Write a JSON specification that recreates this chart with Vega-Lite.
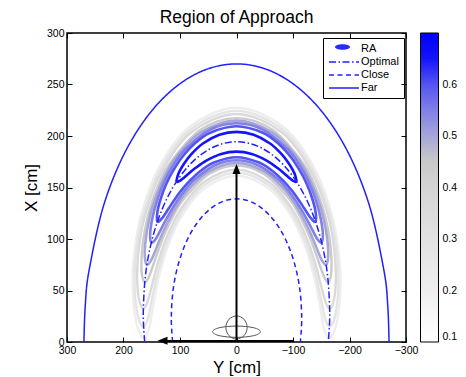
{
"$schema": "https://vega.github.io/schema/vega-lite/v6.json",
"width": 339, "height": 309,
"autosize": {"type": "none"},
"padding": {"left": 67, "top": 33, "right": 60, "bottom": 35},
"title": {"text": "Region of Approach", "fontSize": 17.5, "fontWeight": "normal", "color": "black", "baseline": "bottom", "offset": 8, "dy": 24},
"config": {
  "font": "Liberation Sans",
  "view": {"stroke": "black", "strokeWidth": 1.5},
  "axis": {"domain": false, "grid": false, "tickColor": "black", "tickSize": -5, "tickWidth": 1, "labelFontSize": 10.5, "labelColor": "black", "labelPadding": 8, "labelFlush": false, "titleFontSize": 17, "titleFontWeight": "normal", "titleColor": "black"}
},
"resolve": {"axis": {"x": "independent", "y": "independent"}},
"datasets": {
"contours": [
{"l":0.2,"o":0,"y":163,"x":3.6},{"l":0.2,"o":1,"y":173.3,"x":11.2},{"l":0.2,"o":2,"y":178.9,"x":23.2},{"l":0.2,"o":3,"y":183.1,"x":42.2},{"l":0.2,"o":4,"y":183,"x":75},{"l":0.2,"o":5,"y":170.4,"x":120},{"l":0.2,"o":6,"y":138.6,"x":168},{"l":0.2,"o":7,"y":83.5,"x":208.5},{"l":0.2,"o":8,"y":0,"x":227.4},{"l":0.2,"o":9,"y":-83.5,"x":208.5},{"l":0.2,"o":10,"y":-138.6,"x":168},{"l":0.2,"o":11,"y":-170.4,"x":120},{"l":0.2,"o":12,"y":-183,"x":75},{"l":0.2,"o":13,"y":-183.1,"x":42.2},{"l":0.2,"o":14,"y":-178.9,"x":23.2},{"l":0.2,"o":15,"y":-173.3,"x":11.2},{"l":0.2,"o":16,"y":-163,"x":3.6},{"l":0.2,"o":17,"y":-154.8,"x":13.1},{"l":0.2,"o":18,"y":-150.9,"x":24.1},{"l":0.2,"o":19,"y":-146.2,"x":39.6},{"l":0.2,"o":20,"y":-137.2,"x":63.6},{"l":0.2,"o":21,"y":-121,"x":93.7},{"l":0.2,"o":22,"y":-94.8,"x":124.2},{"l":0.2,"o":23,"y":-56,"x":149.4},{"l":0.2,"o":24,"y":0,"x":161.4},{"l":0.2,"o":25,"y":56,"x":149.4},{"l":0.2,"o":26,"y":94.8,"x":124.2},{"l":0.2,"o":27,"y":121,"x":93.7},{"l":0.2,"o":28,"y":137.2,"x":63.6},{"l":0.2,"o":29,"y":146.2,"x":39.6},{"l":0.2,"o":30,"y":150.9,"x":24.1},{"l":0.2,"o":31,"y":154.8,"x":13.1},
{"l":0.28,"o":0,"y":164.4,"x":15},{"l":0.28,"o":1,"y":171.9,"x":20.4},{"l":0.28,"o":2,"y":177,"x":32.5},{"l":0.28,"o":3,"y":180.2,"x":51.5},{"l":0.28,"o":4,"y":178.8,"x":80.7},{"l":0.28,"o":5,"y":167.6,"x":118.5},{"l":0.28,"o":6,"y":136.4,"x":165.8},{"l":0.28,"o":7,"y":82.2,"x":205.8},{"l":0.28,"o":8,"y":0,"x":224.4},{"l":0.28,"o":9,"y":-82.2,"x":205.8},{"l":0.28,"o":10,"y":-136.4,"x":165.8},{"l":0.28,"o":11,"y":-167.6,"x":118.5},{"l":0.28,"o":12,"y":-178.8,"x":80.7},{"l":0.28,"o":13,"y":-180.2,"x":51.5},{"l":0.28,"o":14,"y":-177,"x":32.5},{"l":0.28,"o":15,"y":-171.9,"x":20.4},{"l":0.28,"o":16,"y":-164.4,"x":15},{"l":0.28,"o":17,"y":-157.7,"x":21.1},{"l":0.28,"o":18,"y":-153,"x":32.1},{"l":0.28,"o":19,"y":-147.3,"x":47.5},{"l":0.28,"o":20,"y":-138.4,"x":69.1},{"l":0.28,"o":21,"y":-123.8,"x":95.2},{"l":0.28,"o":22,"y":-96.9,"x":126.3},{"l":0.28,"o":23,"y":-57.2,"x":152.1},{"l":0.28,"o":24,"y":0,"x":164.4},{"l":0.28,"o":25,"y":57.2,"x":152.1},{"l":0.28,"o":26,"y":96.9,"x":126.3},{"l":0.28,"o":27,"y":123.8,"x":95.2},{"l":0.28,"o":28,"y":138.4,"x":69.1},{"l":0.28,"o":29,"y":147.3,"x":47.5},{"l":0.28,"o":30,"y":153,"x":32.1},{"l":0.28,"o":31,"y":157.7,"x":21.1},
{"l":0.36,"o":0,"y":165,"x":32.3},{"l":0.36,"o":1,"y":171.3,"x":38.4},{"l":0.36,"o":2,"y":174.9,"x":50.9},{"l":0.36,"o":3,"y":175.9,"x":66.8},{"l":0.36,"o":4,"y":172.5,"x":92.2},{"l":0.36,"o":5,"y":161.8,"x":122.8},{"l":0.36,"o":6,"y":134.2,"x":163.6},{"l":0.36,"o":7,"y":81,"x":203.1},{"l":0.36,"o":8,"y":0,"x":221.4},{"l":0.36,"o":9,"y":-81,"x":203.1},{"l":0.36,"o":10,"y":-134.2,"x":163.6},{"l":0.36,"o":11,"y":-161.8,"x":122.8},{"l":0.36,"o":12,"y":-172.5,"x":92.2},{"l":0.36,"o":13,"y":-175.9,"x":66.8},{"l":0.36,"o":14,"y":-174.9,"x":50.9},{"l":0.36,"o":15,"y":-171.3,"x":38.4},{"l":0.36,"o":16,"y":-165,"x":32.3},{"l":0.36,"o":17,"y":-158.3,"x":37.7},{"l":0.36,"o":18,"y":-152.7,"x":48.2},{"l":0.36,"o":19,"y":-146.9,"x":60.6},{"l":0.36,"o":20,"y":-137.6,"x":79.5},{"l":0.36,"o":21,"y":-124,"x":101},{"l":0.36,"o":22,"y":-99.1,"x":128.5},{"l":0.36,"o":23,"y":-58.5,"x":154.8},{"l":0.36,"o":24,"y":0,"x":167.4},{"l":0.36,"o":25,"y":58.5,"x":154.8},{"l":0.36,"o":26,"y":99.1,"x":128.5},{"l":0.36,"o":27,"y":124,"x":101},{"l":0.36,"o":28,"y":137.6,"x":79.5},{"l":0.36,"o":29,"y":146.9,"x":60.6},{"l":0.36,"o":30,"y":152.7,"x":48.2},{"l":0.36,"o":31,"y":158.3,"x":37.7},
{"l":0.44,"o":0,"y":162.5,"x":58},{"l":0.44,"o":1,"y":167.2,"x":64.9},{"l":0.44,"o":2,"y":168.2,"x":77.6},{"l":0.44,"o":3,"y":165.7,"x":96.3},{"l":0.44,"o":4,"y":157.5,"x":120.4},{"l":0.44,"o":5,"y":141.3,"x":148},{"l":0.44,"o":6,"y":119.7,"x":172},{"l":0.44,"o":7,"y":64.2,"x":205.8},{"l":0.44,"o":8,"y":0,"x":217.4},{"l":0.44,"o":9,"y":-64.2,"x":205.8},{"l":0.44,"o":10,"y":-119.7,"x":172},{"l":0.44,"o":11,"y":-141.3,"x":148},{"l":0.44,"o":12,"y":-157.5,"x":120.4},{"l":0.44,"o":13,"y":-165.7,"x":96.3},{"l":0.44,"o":14,"y":-168.2,"x":77.6},{"l":0.44,"o":15,"y":-167.2,"x":64.9},{"l":0.44,"o":16,"y":-162.5,"x":58},{"l":0.44,"o":17,"y":-155.6,"x":62.5},{"l":0.44,"o":18,"y":-149,"x":72.1},{"l":0.44,"o":19,"y":-140.3,"x":86.1},{"l":0.44,"o":20,"y":-128.3,"x":103.5},{"l":0.44,"o":21,"y":-111.5,"x":122.9},{"l":0.44,"o":22,"y":-92.4,"x":139.6},{"l":0.44,"o":23,"y":-48.7,"x":163.1},{"l":0.44,"o":24,"y":0,"x":171.4},{"l":0.44,"o":25,"y":48.7,"x":163.1},{"l":0.44,"o":26,"y":92.4,"x":139.6},{"l":0.44,"o":27,"y":111.5,"x":122.9},{"l":0.44,"o":28,"y":128.3,"x":103.5},{"l":0.44,"o":29,"y":140.3,"x":86.1},{"l":0.44,"o":30,"y":149,"x":72.1},{"l":0.44,"o":31,"y":155.6,"x":62.5},
{"l":0.5,"o":0,"y":158.6,"x":74.9},{"l":0.5,"o":1,"y":162.2,"x":82.1},{"l":0.5,"o":2,"y":161.6,"x":94.7},{"l":0.5,"o":3,"y":156.8,"x":112.8},{"l":0.5,"o":4,"y":147.6,"x":132.8},{"l":0.5,"o":5,"y":129.1,"x":158.5},{"l":0.5,"o":6,"y":105.6,"x":180.2},{"l":0.5,"o":7,"y":63.3,"x":203.4},{"l":0.5,"o":8,"y":0,"x":214.9},{"l":0.5,"o":9,"y":-63.3,"x":203.4},{"l":0.5,"o":10,"y":-105.6,"x":180.2},{"l":0.5,"o":11,"y":-129.1,"x":158.5},{"l":0.5,"o":12,"y":-147.6,"x":132.8},{"l":0.5,"o":13,"y":-156.8,"x":112.8},{"l":0.5,"o":14,"y":-161.6,"x":94.7},{"l":0.5,"o":15,"y":-162.2,"x":82.1},{"l":0.5,"o":16,"y":-158.6,"x":74.9},{"l":0.5,"o":17,"y":-151.7,"x":78.7},{"l":0.5,"o":18,"y":-144.4,"x":87.7},{"l":0.5,"o":19,"y":-134.6,"x":101},{"l":0.5,"o":20,"y":-122.7,"x":115.3},{"l":0.5,"o":21,"y":-104.2,"x":133.6},{"l":0.5,"o":22,"y":-83.7,"x":148.9},{"l":0.5,"o":23,"y":-49.5,"x":165.5},{"l":0.5,"o":24,"y":0,"x":173.9},{"l":0.5,"o":25,"y":49.5,"x":165.5},{"l":0.5,"o":26,"y":83.7,"x":148.9},{"l":0.5,"o":27,"y":104.2,"x":133.6},{"l":0.5,"o":28,"y":122.7,"x":115.3},{"l":0.5,"o":29,"y":134.6,"x":101},{"l":0.5,"o":30,"y":144.4,"x":87.7},{"l":0.5,"o":31,"y":151.7,"x":78.7},
{"l":0.55,"o":0,"y":150.7,"x":96.5},{"l":0.55,"o":1,"y":152.9,"x":104},{"l":0.55,"o":2,"y":150.3,"x":116.2},{"l":0.55,"o":3,"y":144.3,"x":130.5},{"l":0.55,"o":4,"y":132.8,"x":149},{"l":0.55,"o":5,"y":116,"x":167.7},{"l":0.55,"o":6,"y":91,"x":186.9},{"l":0.55,"o":7,"y":47.3,"x":206},{"l":0.55,"o":8,"y":0,"x":212.4},{"l":0.55,"o":9,"y":-47.3,"x":206},{"l":0.55,"o":10,"y":-91,"x":186.9},{"l":0.55,"o":11,"y":-116,"x":167.7},{"l":0.55,"o":12,"y":-132.8,"x":149},{"l":0.55,"o":13,"y":-144.3,"x":130.5},{"l":0.55,"o":14,"y":-150.3,"x":116.2},{"l":0.55,"o":15,"y":-152.9,"x":104},{"l":0.55,"o":16,"y":-150.7,"x":96.5},{"l":0.55,"o":17,"y":-143.7,"x":99.5},{"l":0.55,"o":18,"y":-135.4,"x":107.6},{"l":0.55,"o":19,"y":-126,"x":117.6},{"l":0.55,"o":20,"y":-112.4,"x":130.6},{"l":0.55,"o":21,"y":-96.1,"x":143.9},{"l":0.55,"o":22,"y":-74.1,"x":157.7},{"l":0.55,"o":23,"y":-38.1,"x":171.6},{"l":0.55,"o":24,"y":0,"x":176.4},{"l":0.55,"o":25,"y":38.1,"x":171.6},{"l":0.55,"o":26,"y":74.1,"x":157.7},{"l":0.55,"o":27,"y":96.1,"x":143.9},{"l":0.55,"o":28,"y":112.4,"x":130.6},{"l":0.55,"o":29,"y":126,"x":117.6},{"l":0.55,"o":30,"y":135.4,"x":107.6},{"l":0.55,"o":31,"y":143.7,"x":99.5},
{"l":0.6,"o":0,"y":139.9,"x":116.8},{"l":0.6,"o":1,"y":139.7,"x":127.2},{"l":0.6,"o":2,"y":133,"x":141},{"l":0.6,"o":3,"y":124.2,"x":153.6},{"l":0.6,"o":4,"y":113.7,"x":164.9},{"l":0.6,"o":5,"y":97.1,"x":178.9},{"l":0.6,"o":6,"y":75.7,"x":191.8},{"l":0.6,"o":7,"y":46.5,"x":203.1},{"l":0.6,"o":8,"y":0,"x":209.4},{"l":0.6,"o":9,"y":-46.5,"x":203.1},{"l":0.6,"o":10,"y":-75.7,"x":191.8},{"l":0.6,"o":11,"y":-97.1,"x":178.9},{"l":0.6,"o":12,"y":-113.7,"x":164.9},{"l":0.6,"o":13,"y":-124.2,"x":153.6},{"l":0.6,"o":14,"y":-133,"x":141},{"l":0.6,"o":15,"y":-139.7,"x":127.2},{"l":0.6,"o":16,"y":-139.9,"x":116.8},{"l":0.6,"o":17,"y":-130.7,"x":120.9},{"l":0.6,"o":18,"y":-119.8,"x":129.9},{"l":0.6,"o":19,"y":-109.2,"x":138.6},{"l":0.6,"o":20,"y":-98.4,"x":146.7},{"l":0.6,"o":21,"y":-82.6,"x":156.6},{"l":0.6,"o":22,"y":-63.7,"x":166.1},{"l":0.6,"o":23,"y":-38.9,"x":174.5},{"l":0.6,"o":24,"y":0,"x":179.4},{"l":0.6,"o":25,"y":38.9,"x":174.5},{"l":0.6,"o":26,"y":63.7,"x":166.1},{"l":0.6,"o":27,"y":82.6,"x":156.6},{"l":0.6,"o":28,"y":98.4,"x":146.7},{"l":0.6,"o":29,"y":109.2,"x":138.6},{"l":0.6,"o":30,"y":119.8,"x":129.9},{"l":0.6,"o":31,"y":130.7,"x":120.9},
{"l":0.65,"o":0,"y":106.1,"x":155.8},{"l":0.65,"o":1,"y":103.7,"x":162.1},{"l":0.65,"o":2,"y":99.8,"x":166.8},{"l":0.65,"o":3,"y":93.2,"x":172.9},{"l":0.65,"o":4,"y":81,"x":181.7},{"l":0.65,"o":5,"y":59.5,"x":192.7},{"l":0.65,"o":6,"y":30.3,"x":201.2},{"l":0.65,"o":7,"y":0,"x":204},{"l":0.65,"o":8,"y":-30.3,"x":201.2},{"l":0.65,"o":9,"y":-59.5,"x":192.7},{"l":0.65,"o":10,"y":-81,"x":181.7},{"l":0.65,"o":11,"y":-93.2,"x":172.9},{"l":0.65,"o":12,"y":-99.8,"x":166.8},{"l":0.65,"o":13,"y":-103.7,"x":162.1},{"l":0.65,"o":14,"y":-106.1,"x":155.8},{"l":0.65,"o":15,"y":-99.5,"x":156.7},{"l":0.65,"o":16,"y":-94.2,"x":159},{"l":0.65,"o":17,"y":-86.5,"x":162.7},{"l":0.65,"o":18,"y":-73.9,"x":168.4},{"l":0.65,"o":19,"y":-53.4,"x":176.2},{"l":0.65,"o":20,"y":-27,"x":182.6},{"l":0.65,"o":21,"y":0,"x":184.8},{"l":0.65,"o":22,"y":27,"x":182.6},{"l":0.65,"o":23,"y":53.4,"x":176.2},{"l":0.65,"o":24,"y":73.9,"x":168.4},{"l":0.65,"o":25,"y":86.5,"x":162.7},{"l":0.65,"o":26,"y":94.2,"x":159},{"l":0.65,"o":27,"y":99.5,"x":156.7}
],
"curves": [
{"name":"Optimal","o":0,"y":162.4,"x":0},{"name":"Optimal","o":1,"y":165,"x":29.4},{"name":"Optimal","o":2,"y":159.4,"x":72.1},{"name":"Optimal","o":3,"y":142.9,"x":111.9},{"name":"Optimal","o":4,"y":116.7,"x":146.1},{"name":"Optimal","o":5,"y":82.5,"x":172.3},{"name":"Optimal","o":6,"y":42.7,"x":188.8},{"name":"Optimal","o":7,"y":0,"x":194.4},{"name":"Optimal","o":8,"y":-42.7,"x":188.8},{"name":"Optimal","o":9,"y":-82.5,"x":172.3},{"name":"Optimal","o":10,"y":-116.7,"x":146.1},{"name":"Optimal","o":11,"y":-142.9,"x":111.9},{"name":"Optimal","o":12,"y":-159.4,"x":72.1},{"name":"Optimal","o":13,"y":-165,"x":29.4},{"name":"Optimal","o":14,"y":-162.4,"x":0},
{"name":"Close","o":0,"y":113,"x":0},{"name":"Close","o":1,"y":115.4,"x":23.6},{"name":"Close","o":2,"y":111.5,"x":53.5},{"name":"Close","o":3,"y":99.9,"x":81.3},{"name":"Close","o":4,"y":81.6,"x":105.2},{"name":"Close","o":5,"y":57.7,"x":123.5},{"name":"Close","o":6,"y":29.9,"x":135.1},{"name":"Close","o":7,"y":0,"x":139},{"name":"Close","o":8,"y":-29.9,"x":135.1},{"name":"Close","o":9,"y":-57.7,"x":123.5},{"name":"Close","o":10,"y":-81.6,"x":105.2},{"name":"Close","o":11,"y":-99.9,"x":81.3},{"name":"Close","o":12,"y":-111.5,"x":53.5},{"name":"Close","o":13,"y":-115.4,"x":23.6},{"name":"Close","o":14,"y":-113,"x":0},
{"name":"Far","o":0,"y":270,"x":0},{"name":"Far","o":1,"y":267.7,"x":35.2},{"name":"Far","o":2,"y":260.8,"x":69.9},{"name":"Far","o":3,"y":233.8,"x":135},{"name":"Far","o":4,"y":190.9,"x":190.9},{"name":"Far","o":5,"y":135,"x":233.8},{"name":"Far","o":6,"y":69.9,"x":260.8},{"name":"Far","o":7,"y":0,"x":270},{"name":"Far","o":8,"y":-69.9,"x":260.8},{"name":"Far","o":9,"y":-135,"x":233.8},{"name":"Far","o":10,"y":-190.9,"x":190.9},{"name":"Far","o":11,"y":-233.8,"x":135},{"name":"Far","o":12,"y":-260.8,"x":69.9},{"name":"Far","o":13,"y":-267.7,"x":35.2},{"name":"Far","o":14,"y":-270,"x":0}
],
"head": [
{"part":"circle","o":0,"y":18.9,"x":14.1},{"part":"circle","o":1,"y":13.4,"x":22},{"part":"circle","o":2,"y":0,"x":25.3},{"part":"circle","o":3,"y":-13.4,"x":22},{"part":"circle","o":4,"y":-18.9,"x":14.1},{"part":"circle","o":5,"y":-13.4,"x":6.2},{"part":"circle","o":6,"y":0,"x":2.9},{"part":"circle","o":7,"y":13.4,"x":6.2},
{"part":"ellipse","o":0,"y":42.5,"x":10},{"part":"ellipse","o":1,"y":30.1,"x":13.9},{"part":"ellipse","o":2,"y":0,"x":15.5},{"part":"ellipse","o":3,"y":-30.1,"x":13.9},{"part":"ellipse","o":4,"y":-42.5,"x":10},{"part":"ellipse","o":5,"y":-30.1,"x":6.1},{"part":"ellipse","o":6,"y":0,"x":4.5},{"part":"ellipse","o":7,"y":30.1,"x":6.1}
],
"shafts": [
{"ya":0,"xa":0,"yb":0,"xb":166},
{"ya":-100,"xa":1,"yb":125,"xb":1}
],
"headup": [{"y":0,"x":168}],
"headleft": [{"y":131,"x":1.2}],
"raicon": [{"k":"RA","y":0,"x":150}]
},
"layer": [
{
 "data": {"name": "contours"},
 "transform": [{"filter": "datum.l < 0.48"}],
 "mark": {"type": "line", "interpolate": "cardinal-closed", "strokeWidth": 2.4},
 "encoding": {
  "x": {"field": "y", "type": "quantitative", "scale": {"domain": [-300, 300], "reverse": true, "nice": false, "zero": false},
        "axis": {"orient": "bottom", "title": "Y [cm]", "values": [-300, -200, -100, 0, 100, 200, 300], "titlePadding": 4}},
  "y": {"field": "x", "type": "quantitative", "scale": {"domain": [0, 300], "nice": false, "zero": false},
        "axis": {"orient": "left", "title": "X [cm]", "values": [0, 50, 100, 150, 200, 250, 300], "titlePadding": 6}},
  "color": {"field": "l", "type": "quantitative",
    "scale": {"domain": [0.1, 0.2, 0.3, 0.4, 0.45, 0.5, 0.55, 0.6, 0.65, 0.7],
              "range": ["#ffffff", "#eeeeee", "#e2e2e2", "#d4d4d4", "#c9c9c9", "#a6a6d8", "#8080e6", "#5454f2", "#1414fb", "#0000ff"],
              "interpolate": "rgb"},
    "legend": {"orient": "none", "legendX": 353.5, "legendY": 0, "direction": "vertical", "title": null,
               "gradientLength": 309, "gradientThickness": 18, "gradientStrokeColor": "black", "gradientStrokeWidth": 1,
               "values": [0.1, 0.2, 0.3, 0.4, 0.5, 0.6], "format": ".1f", "labelFontSize": 10.5, "labelColor": "black",
               "labelOffset": 4, "labelOverlap": false, "padding": 0}},
  "detail": {"field": "l", "type": "quantitative"},
  "order": {"field": "o", "type": "quantitative", "sort": "ascending"}
 }
},
{
 "data": {"name": "contours"},
 "transform": [{"filter": "datum.l > 0.48"}],
 "mark": {"type": "line", "interpolate": "cardinal-closed", "strokeWidth": 2.6},
 "encoding": {
  "x": {"field": "y", "type": "quantitative", "scale": {"domain": [-300, 300], "reverse": true, "nice": false, "zero": false}, "axis": null},
  "y": {"field": "x", "type": "quantitative", "scale": {"domain": [0, 300], "nice": false, "zero": false}, "axis": null},
  "color": {"field": "l", "type": "quantitative",
    "scale": {"domain": [0.1, 0.2, 0.3, 0.4, 0.45, 0.5, 0.55, 0.6, 0.65, 0.7],
              "range": ["#ffffff", "#eeeeee", "#e2e2e2", "#d4d4d4", "#c9c9c9", "#a6a6d8", "#8080e6", "#5454f2", "#1414fb", "#0000ff"],
              "interpolate": "rgb"},
    "legend": {"orient": "none", "legendX": 353.5, "legendY": 0, "direction": "vertical", "title": null,
               "gradientLength": 309, "gradientThickness": 18, "gradientStrokeColor": "black", "gradientStrokeWidth": 1,
               "values": [0.1, 0.2, 0.3, 0.4, 0.5, 0.6], "format": ".1f", "labelFontSize": 10.5, "labelColor": "black",
               "labelOffset": 4, "labelOverlap": false, "padding": 0}},
  "detail": {"field": "l", "type": "quantitative"},
  "order": {"field": "o", "type": "quantitative", "sort": "ascending"}
 }
},
{
 "data": {"name": "curves"},
 "mark": {"type": "line", "interpolate": "cardinal", "strokeWidth": 1.5, "color": "#2020ff"},
 "encoding": {
  "x": {"field": "y", "type": "quantitative", "scale": {"domain": [-300, 300], "reverse": true, "nice": false, "zero": false}, "axis": null},
  "y": {"field": "x", "type": "quantitative", "scale": {"domain": [0, 300], "nice": false, "zero": false}, "axis": null},
  "detail": {"field": "name", "type": "nominal"},
  "order": {"field": "o", "type": "quantitative", "sort": "ascending"},
  "strokeDash": {"field": "name", "type": "nominal",
    "scale": {"domain": ["RA", "Optimal", "Close", "Far"], "range": [[0, 100], [7, 2.5, 1.5, 2.5], [5, 3.5], [1, 0]]},
    "legend": {"orient": "none", "legendX": 256, "legendY": 5, "title": null, "padding": 5,
               "strokeColor": "black",
               "symbolType": "M-1,0L5,0", "symbolSize": 100, "symbolStrokeWidth": 1.5, "symbolStrokeColor": "#2020ff",
               "labelFontSize": 11, "labelColor": "black", "labelOffset": 21, "rowPadding": 2}}
 }
},
{
 "data": {"name": "raicon"},
 "mark": {"type": "point", "filled": true, "color": "#2a2aff", "stroke": "#c0c0c0", "strokeWidth": 3, "opacity": 0},
 "encoding": {
  "x": {"field": "y", "type": "quantitative", "scale": {"domain": [-300, 300], "reverse": true, "nice": false, "zero": false}, "axis": null},
  "y": {"field": "x", "type": "quantitative", "scale": {"domain": [0, 300], "nice": false, "zero": false}, "axis": null},
  "shape": {"field": "k", "type": "nominal",
    "scale": {"domain": ["RA"], "range": ["M-1.5,0A1.5,0.55 0 1,1 1.5,0A1.5,0.55 0 1,1 -1.5,0Z"]},
    "legend": {"orient": "none", "legendX": 269, "legendY": 7.5, "title": null, "padding": 0,
               "symbolSize": 100, "symbolOpacity": 1, "symbolFillColor": "#2a2aff", "symbolStrokeColor": "#c0c0c0", "symbolStrokeWidth": 3,
               "labelExpr": "''", "labelFontSize": 1}}
 }
},
{
 "data": {"name": "head"},
 "mark": {"type": "line", "interpolate": "cardinal-closed", "strokeWidth": 1, "color": "#555555"},
 "encoding": {
  "x": {"field": "y", "type": "quantitative", "scale": {"domain": [-300, 300], "reverse": true, "nice": false, "zero": false}, "axis": null},
  "y": {"field": "x", "type": "quantitative", "scale": {"domain": [0, 300], "nice": false, "zero": false}, "axis": null},
  "detail": {"field": "part", "type": "nominal"},
  "order": {"field": "o", "type": "quantitative", "sort": "ascending"}
 }
},
{
 "data": {"name": "shafts"},
 "mark": {"type": "rule", "strokeWidth": 2, "color": "black"},
 "encoding": {
  "x": {"field": "ya", "type": "quantitative", "scale": {"domain": [-300, 300], "reverse": true, "nice": false, "zero": false},
        "axis": {"orient": "top", "labels": false, "title": null, "values": [-300, -200, -100, 0, 100, 200, 300]}},
  "y": {"field": "xa", "type": "quantitative", "scale": {"domain": [0, 300], "nice": false, "zero": false},
        "axis": {"orient": "right", "labels": false, "title": null, "values": [0, 50, 100, 150, 200, 250, 300]}},
  "x2": {"field": "yb"},
  "y2": {"field": "xb"}
 }
},
{
 "data": {"name": "headup"},
 "mark": {"type": "point", "filled": true, "color": "black", "opacity": 1, "size": 100, "shape": "M0,-1L0.8,1L-0.8,1Z"},
 "encoding": {
  "x": {"field": "y", "type": "quantitative", "scale": {"domain": [-300, 300], "reverse": true, "nice": false, "zero": false}, "axis": null},
  "y": {"field": "x", "type": "quantitative", "scale": {"domain": [0, 300], "nice": false, "zero": false}, "axis": null}
 }
},
{
 "data": {"name": "headleft"},
 "mark": {"type": "point", "filled": true, "color": "black", "opacity": 1, "size": 100, "shape": "M-1,0L1,-0.8L1,0.8Z"},
 "encoding": {
  "x": {"field": "y", "type": "quantitative", "scale": {"domain": [-300, 300], "reverse": true, "nice": false, "zero": false}, "axis": null},
  "y": {"field": "x", "type": "quantitative", "scale": {"domain": [0, 300], "nice": false, "zero": false}, "axis": null}
 }
}
]
}
